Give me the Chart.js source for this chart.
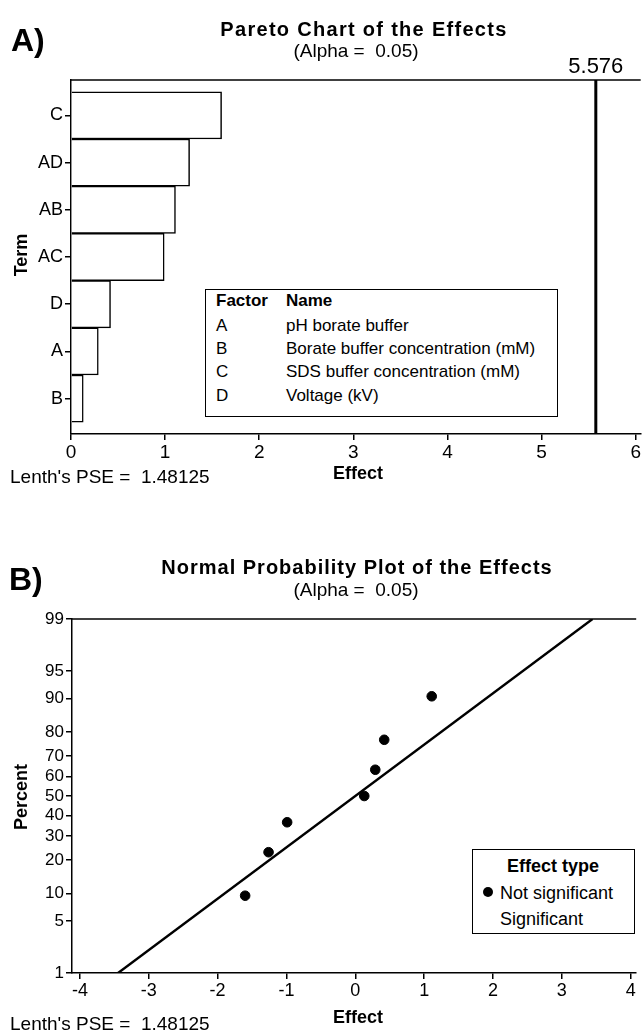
<!DOCTYPE html>
<html>
<head>
<meta charset="utf-8">
<script src="https://cdn.jsdelivr.net/npm/chart.js@4.4.1/dist/chart.umd.min.js"></script>
<style>
  body { margin: 0; background: #fff; font-family: "Liberation Sans", Arial, sans-serif; color: #000; }
  #page { position: relative; width: 642px; height: 1033px; overflow: hidden; }
  canvas { position: absolute; left: 0; }
  .txt { position: absolute; white-space: nowrap; line-height: 1; }
  .center { transform: translateX(-50%); }
  .bold { font-weight: bold; }
  .rot { transform: translate(-50%, -50%) rotate(-90deg); }
  .box { position: absolute; border: 1.5px solid #000; background: #fff; }
</style>
</head>
<body>
<div id="page">
  <canvas id="pareto" width="642" height="516" style="top:0"></canvas>
  <canvas id="normal" width="642" height="517" style="top:516px"></canvas>

  <div class="txt bold" style="left:11px;top:24px;font-size:32px">A)</div>
  <div class="txt bold center" style="left:364px;top:19px;font-size:20px;letter-spacing:1.3px">Pareto Chart of the Effects</div>
  <div class="txt center" style="left:356px;top:41px;font-size:19px">(Alpha = &nbsp;0.05)</div>
  <div class="txt bold rot" style="left:21px;top:255px;font-size:18px">Term</div>
  <div class="txt bold center" style="left:358px;top:464px;font-size:18px">Effect</div>
  <div class="txt" style="left:10px;top:467px;font-size:19px">Lenth's PSE = &nbsp;1.48125</div>

  <div class="box" style="left:205px;top:289px;width:351px;height:126px">
    <div class="txt bold" style="left:10px;top:2px;font-size:17px">Factor</div>
    <div class="txt bold" style="left:80px;top:2px;font-size:17px">Name</div>
    <div class="txt" style="left:10px;top:27px;font-size:17px">A</div>
    <div class="txt" style="left:80px;top:27px;font-size:17px">pH borate buffer</div>
    <div class="txt" style="left:10px;top:50px;font-size:17px">B</div>
    <div class="txt" style="left:80px;top:50px;font-size:17px">Borate buffer concentration (mM)</div>
    <div class="txt" style="left:10px;top:73px;font-size:17px">C</div>
    <div class="txt" style="left:80px;top:73px;font-size:17px">SDS buffer concentration (mM)</div>
    <div class="txt" style="left:10px;top:97px;font-size:17px">D</div>
    <div class="txt" style="left:80px;top:97px;font-size:17px">Voltage (kV)</div>
  </div>

  <div class="txt bold" style="left:9px;top:563px;font-size:32px">B)</div>
  <div class="txt bold center" style="left:357px;top:557px;font-size:20px;letter-spacing:1px">Normal Probability Plot of the Effects</div>
  <div class="txt center" style="left:356px;top:580px;font-size:19px">(Alpha = &nbsp;0.05)</div>
  <div class="txt bold rot" style="left:21px;top:797px;font-size:18px">Percent</div>
  <div class="txt bold center" style="left:358px;top:1008px;font-size:18px">Effect</div>
  <div class="txt" style="left:10px;top:1014px;font-size:19px">Lenth's PSE = &nbsp;1.48125</div>

  <div class="box" style="left:472px;top:849px;width:161px;height:83px">
    <div class="txt bold center" style="left:80px;top:7px;font-size:18px">Effect type</div>
    <div style="position:absolute;left:10px;top:37px;width:10px;height:10px;border-radius:50%;background:#000"></div>
    <div class="txt" style="left:27px;top:34px;font-size:18px">Not significant</div>
    <div class="txt" style="left:27px;top:60px;font-size:18px">Significant</div>
  </div>
</div>

<script>
// pareto chart data
const terms = ["C", "AD", "AB", "AC", "D", "A", "B"];
const effects = [1.6, 1.26, 1.11, 0.99, 0.42, 0.29, 0.13];
const effectTicks = [0, 1, 2, 3, 4, 5, 6];
const critical = 5.576;

// normal probability plot data
const probTerms = ["C", "AD", "AC", "B", "A", "D", "AB"];
const probEffects = [-1.6, -1.26, -0.99, 0.13, 0.29, 0.42, 1.11];
const probPercent = [9.5, 23.0, 36.5, 50.0, 63.5, 77.0, 90.5];
const lineEffects = [-3.446, 3.446];
const linePercent = [1, 99];
const percentTicks = [1, 5, 10, 20, 30, 40, 50, 60, 70, 80, 90, 95, 99];
const normalEffectTicks = [-4, -3, -2, -1, 0, 1, 2, 3, 4];

const font = "'Liberation Sans', Arial, sans-serif";

// inverse normal cdf (Acklam), used for the percent axis
const probit = p => {
  const a = [-39.69683028665376, 220.9460984245205, -275.9285104469687, 138.357751867269, -30.66479806614716, 2.506628277459239];
  const b = [-54.47609879822406, 161.5858368580409, -155.6989798598866, 66.80131188771972, -13.28068155288572];
  const c = [-0.007784894002430293, -0.3223964580411365, -2.400758277161838, -2.549732539343734, 4.374664141464968, 2.938163982698783];
  const d = [0.007784695709041462, 0.3224671290700398, 2.445134137142996, 3.754408661907416];
  const pl = 0.02425;
  let q, r;
  if (p < pl) {
    q = Math.sqrt(-2 * Math.log(p));
    return (((((c[0] * q + c[1]) * q + c[2]) * q + c[3]) * q + c[4]) * q + c[5]) / ((((d[0] * q + d[1]) * q + d[2]) * q + d[3]) * q + 1);
  }
  if (p > 1 - pl) {
    q = Math.sqrt(-2 * Math.log(1 - p));
    return -(((((c[0] * q + c[1]) * q + c[2]) * q + c[3]) * q + c[4]) * q + c[5]) / ((((d[0] * q + d[1]) * q + d[2]) * q + d[3]) * q + 1);
  }
  q = p - 0.5;
  r = q * q;
  return (((((a[0] * r + a[1]) * r + a[2]) * r + a[3]) * r + a[4]) * r + a[5]) * q / (((((b[0] * r + b[1]) * r + b[2]) * r + b[3]) * r + b[4]) * r + 1);
};

// top border of the plot frame
const topFrame = {
  id: "topFrame",
  afterDraw: chart => {
    const { ctx, chartArea } = chart;
    ctx.save();
    ctx.strokeStyle = "#000";
    ctx.lineWidth = 1.5;
    ctx.beginPath();
    ctx.moveTo(chartArea.left, chartArea.top);
    ctx.lineTo(chartArea.right, chartArea.top);
    ctx.stroke();
    ctx.restore();
  },
};

// reference line for the pareto chart
const criticalLine = {
  id: "criticalLine",
  afterDatasetsDraw: chart => {
    const { ctx, chartArea } = chart;
    const x = chart.scales.x.getPixelForValue(critical);
    ctx.save();
    ctx.strokeStyle = "#000";
    ctx.lineWidth = 3;
    ctx.beginPath();
    ctx.moveTo(x, chartArea.top);
    ctx.lineTo(x, chartArea.bottom);
    ctx.stroke();
    ctx.fillStyle = "#000";
    ctx.font = `22px ${font}`;
    ctx.textAlign = "center";
    ctx.textBaseline = "bottom";
    ctx.fillText(critical.toFixed(3), x, chartArea.top - 2);
    ctx.restore();
  },
};

const axisStyle = {
  offset: false,
  grid: { drawOnChartArea: false, offset: false, color: "#000", tickColor: "#000", tickLength: 6, lineWidth: 1.5 },
  border: { color: "#000", width: 1.5 },
};

new Chart(document.getElementById("pareto"), {
  type: "bar",
  data: {
    datasets: [
      {
        data: effects.map((v, i) => ({ x: v, y: i })),
        backgroundColor: "#fff",
        borderColor: "#000",
        borderWidth: 1.5,
        barPercentage: 1,
        categoryPercentage: 1,
      },
    ],
  },
  options: {
    indexAxis: "y",
    responsive: false,
    animation: false,
    layout: { padding: { top: 80, right: 0, bottom: 42, left: 0 } },
    plugins: { legend: { display: false }, tooltip: { enabled: false } },
    scales: {
      x: {
        type: "linear",
        min: 0,
        max: 6.053,
        ...axisStyle,
        afterBuildTicks: s => {
          s.ticks = effectTicks.map(v => ({ value: v }));
        },
        afterFit: s => {
          s.height = 40;
        },
        ticks: { color: "#000", font: { family: font, size: 19 }, padding: 1, maxRotation: 0 },
      },
      y: {
        type: "linear",
        reverse: true,
        min: -0.75,
        max: 6.75,
        ...axisStyle,
        afterBuildTicks: s => {
          s.ticks = terms.map((t, i) => ({ value: i }));
        },
        afterFit: s => {
          s.width = 71;
        },
        ticks: {
          color: "#000",
          font: { family: font, size: 18 },
          padding: 2,
          callback: v => terms[v],
        },
      },
    },
  },
  plugins: [topFrame, criticalLine],
});

new Chart(document.getElementById("normal"), {
  type: "scatter",
  data: {
    datasets: [
      {
        label: "Not significant",
        data: probEffects.map((v, i) => ({ x: v, y: probit(probPercent[i] / 100) })),
        backgroundColor: "#000",
        borderColor: "#000",
        pointRadius: 4.8,
      },
      {
        label: "fit",
        data: lineEffects.map((v, i) => ({ x: v, y: probit(linePercent[i] / 100) })),
        showLine: true,
        borderColor: "#000",
        borderWidth: 2.4,
        pointRadius: 0,
      },
    ],
  },
  options: {
    responsive: false,
    animation: false,
    layout: { padding: { top: 103, right: 0, bottom: 20, left: 0 } },
    plugins: { legend: { display: false }, tooltip: { enabled: false } },
    scales: {
      x: {
        type: "linear",
        min: -4.115,
        max: 4.08,
        ...axisStyle,
        afterBuildTicks: s => {
          s.ticks = normalEffectTicks.map(v => ({ value: v }));
        },
        afterFit: s => {
          s.height = 40;
        },
        ticks: { color: "#000", font: { family: font, size: 18 }, padding: 1, maxRotation: 0 },
      },
      y: {
        type: "linear",
        min: probit(0.01),
        max: probit(0.99),
        ...axisStyle,
        afterBuildTicks: s => {
          s.ticks = percentTicks.map(p => ({ value: probit(p / 100) }));
        },
        afterFit: s => {
          s.width = 72;
        },
        ticks: {
          color: "#000",
          font: { family: font, size: 17 },
          padding: 2,
          callback: (v, i) => percentTicks[i],
        },
      },
    },
  },
  plugins: [topFrame],
});
</script>
</body>
</html>
